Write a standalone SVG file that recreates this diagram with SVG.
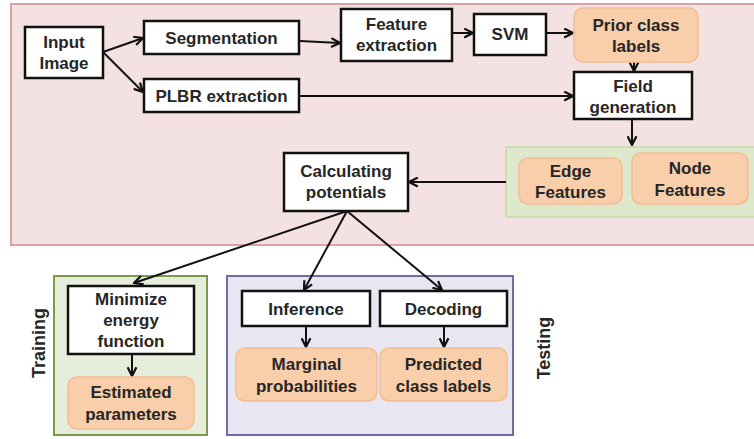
<svg xmlns="http://www.w3.org/2000/svg" width="754" height="439" viewBox="0 0 754 439">
<defs>
<marker id="ah" viewBox="0 0 10 10" refX="9" refY="5" markerWidth="5.5" markerHeight="5.5" orient="auto" markerUnits="strokeWidth">
<path d="M1,1 L9,5 L1,9" fill="none" stroke="#111" stroke-width="2"/>
</marker>
</defs>
<style>
text{font-family:"Liberation Sans",Arial,sans-serif;font-weight:bold;font-size:17px;fill:#262626;text-anchor:middle}
.box{fill:#fff;stroke:#111;stroke-width:2.5}
.out{fill:#f9cfab;stroke:#f3bd92;stroke-width:1.5}
.c{fill:none;stroke:#111;stroke-width:2;marker-end:url(#ah)}
.lab{font-size:18px}
</style>
<rect x="0" y="0" width="754" height="439" fill="#fff"/>
<g id="frame-main"><rect x="11" y="4" width="746" height="241" fill="#f4e1e1" stroke="#d9a3a3" stroke-width="2"/></g>
<g id="frame-features"><rect x="506" y="147" width="250" height="70" fill="#dde8cd" stroke="#c5d9a8" stroke-width="1.5"/></g>
<g id="frame-training"><rect x="54" y="276" width="153" height="159" fill="#e6eedb" stroke="#7a9a4a" stroke-width="2"/>
<text class="lab" transform="translate(45,343) rotate(-90)">Training</text></g>
<g id="frame-testing"><rect x="227" y="276" width="286" height="159" fill="#e8e6f0" stroke="#7868a0" stroke-width="2"/>
<text class="lab" transform="translate(550,348) rotate(-90)">Testing</text></g>

<g id="connectors">
<path class="c" d="M103,52 L143,38"/>
<path class="c" d="M103,52 L143,92"/>
<path class="c" d="M300,41 L340,43"/>
<path class="c" d="M452,33 L473,33"/>
<path class="c" d="M546,33 L573,33"/>
<path class="c" d="M634,62 L634,71"/>
<path class="c" d="M300,96 L573,96"/>
<path class="c" d="M632,119 L632,145"/>
<path class="c" d="M506,182 L409,182"/>
<path class="c" d="M347,211 L134,283"/>
<path class="c" d="M347,211 L304,290"/>
<path class="c" d="M347,211 L442,290"/>
<path class="c" d="M132,355 L132,376"/>
<path class="c" d="M306,327 L306,347"/>
<path class="c" d="M444,327 L444,347"/>
</g>

<g id="input-image"><rect class="box" x="25" y="27" width="78" height="51"/><text x="64" y="48">Input</text><text x="64" y="69">Image</text></g>
<g id="segmentation"><rect class="box" x="144" y="21" width="155" height="33"/><text x="221.5" y="44">Segmentation</text></g>
<g id="plbr"><rect class="box" x="144" y="79" width="155" height="33"/><text x="221.5" y="102">PLBR extraction</text></g>
<g id="feature-extraction"><rect class="box" x="341" y="9" width="111" height="52"/><text x="396.5" y="30">Feature</text><text x="396.5" y="51">extraction</text></g>
<g id="svm"><rect class="box" x="474" y="14" width="72" height="41"/><text x="510" y="40">SVM</text></g>
<g id="prior"><rect class="out" x="574" y="8" width="124" height="54" rx="9"/><text x="636" y="31">Prior class</text><text x="636" y="52">labels</text></g>
<g id="field"><rect class="box" x="574" y="72" width="118" height="47"/><text x="633" y="92">Field</text><text x="633" y="113">generation</text></g>
<g id="edge"><rect class="out" x="519" y="158" width="103" height="46" rx="9"/><text x="570.5" y="177">Edge</text><text x="570.5" y="198">Features</text></g>
<g id="node"><rect class="out" x="632" y="153" width="116" height="51" rx="9"/><text x="690" y="174">Node</text><text x="690" y="196">Features</text></g>
<g id="calc"><rect class="box" x="284" y="153" width="124" height="58"/><text x="346" y="177">Calculating</text><text x="346" y="198">potentials</text></g>
<g id="minimize"><rect class="box" x="68" y="286" width="126" height="68"/><text x="131" y="305">Minimize</text><text x="131" y="326">energy</text><text x="131" y="347">function</text></g>
<g id="estimated"><rect class="out" x="68" y="377" width="126" height="52" rx="9"/><text x="131" y="398">Estimated</text><text x="131" y="420">parameters</text></g>
<g id="inference"><rect class="box" x="242" y="291" width="128" height="35"/><text x="306" y="315">Inference</text></g>
<g id="decoding"><rect class="box" x="380" y="291" width="127" height="35"/><text x="443.5" y="315">Decoding</text></g>
<g id="marginal"><rect class="out" x="236" y="348" width="141" height="53" rx="9"/><text x="306.5" y="370">Marginal</text><text x="306.5" y="392">probabilities</text></g>
<g id="predicted"><rect class="out" x="380" y="348" width="127" height="53" rx="9"/><text x="443.5" y="370">Predicted</text><text x="443.5" y="392">class labels</text></g>
</svg>
